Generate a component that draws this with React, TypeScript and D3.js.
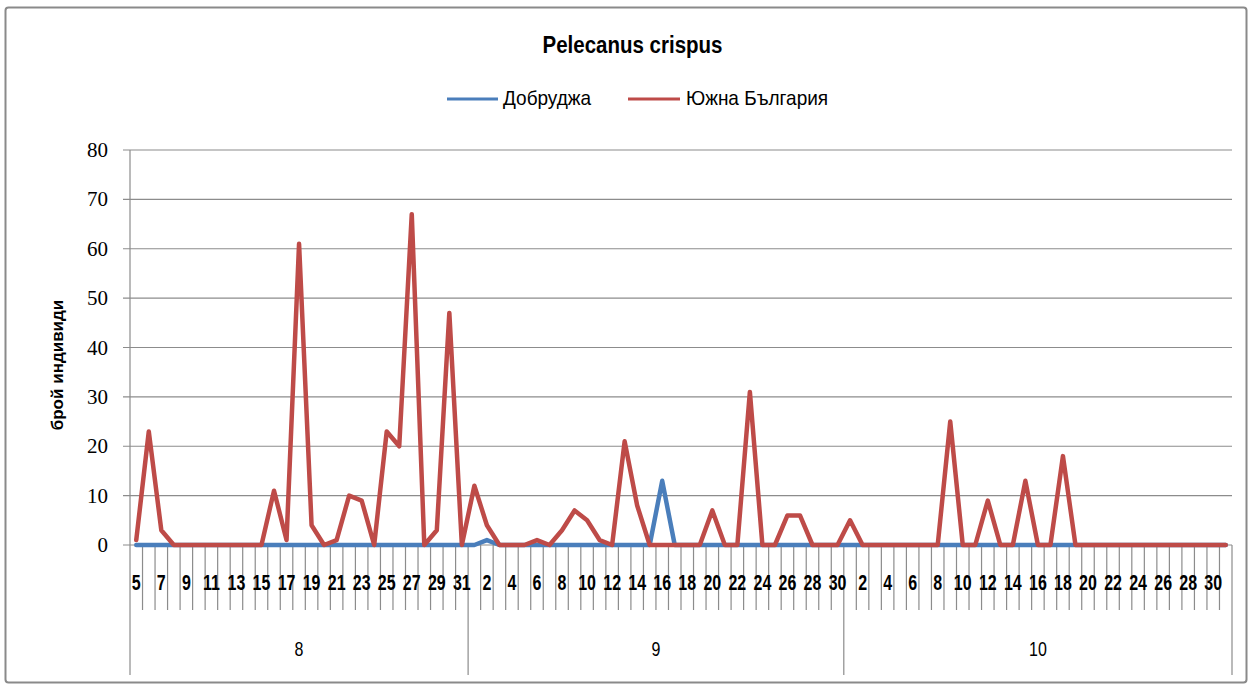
import React from 'react';
import * as d3 from 'd3';

const augustDays = ["5","6","7","8","9","10","11","12","13","14","15","16","17","18","19","20","21","22","23","24","25","26","27","28","29","30","31"];
const septemberDays = ["1","2","3","4","5","6","7","8","9","10","11","12","13","14","15","16","17","18","19","20","21","22","23","24","25","26","27","28","29","30"];
const octoberDays = ["1","2","3","4","5","6","7","8","9","10","11","12","13","14","15","16","17","18","19","20","21","22","23","24","25","26","27","28","29","30","31"];
const months = ["8", "9", "10"];

// Добруджа
const dobrudzhaAug = [0,0,0,0,0,0,0,0,0,0,0,0,0,0,0,0,0,0,0,0,0,0,0,0,0,0,0];
const dobrudzhaSep = [0,1,0,0,0,0,0,0,0,0,0,0,0,0,0,13,0,0,0,0,0,0,0,0,0,0,0,0,0,0];
const dobrudzhaOct = [0,0,0,0,0,0,0,0,0,0,0,0,0,0,0,0,0,0,0,0,0,0,0,0,0,0,0,0,0,0,0];

// Южна България
const southAug = [1,23,3,0,0,0,0,0,0,0,0,11,1,61,4,0,1,10,9,0,23,20,67,0,3,47,0];
const southSep = [12,4,0,0,0,1,0,3,7,5,1,0,21,8,0,0,0,0,0,7,0,0,31,0,0,6,6,0,0,0];
const southOct = [5,0,0,0,0,0,0,0,25,0,0,9,0,0,13,0,0,18,0,0,0,0,0,0,0,0,0,0,0,0,0];

const yTicks = [0, 10, 20, 30, 40, 50, 60, 70, 80];

const seriesNames = ["Добруджа", "Южна България"];
const seriesColors = ["#4A7EBB", "#BE4B48"];

const monthDays = [augustDays, septemberDays, octoberDays];
const dobrudzha = [...dobrudzhaAug, ...dobrudzhaSep, ...dobrudzhaOct];
const south = [...southAug, ...southSep, ...southOct];

type Cat = { key: string; month: string; day: string; idx: number };
const categories: Cat[] = [];
monthDays.forEach((days, m) => {
  days.forEach((d) => {
    categories.push({ key: `${months[m]}-${d}`, month: months[m], day: d, idx: categories.length });
  });
});

const W = 1254;
const H = 685;
const plotLeft = 130;
const plotRight = 1232;
const plotTop = 150;
const plotBottom = 545;

const grid = '#8C8C8C';

function STxt(props: {
  x: number; y: number; sy?: number; anchor?: string; size: number; weight?: string | number;
  family?: string; fill?: string; rotate?: number; children: React.ReactNode;
}) {
  const { x, y, sy = 1, anchor = 'middle', size, weight = 'normal', family = "'Liberation Sans', Arial, sans-serif", fill = '#000', rotate = 0 } = props;
  const tr = `translate(${x},${y})` + (rotate ? ` rotate(${rotate})` : '') + ` scale(1,${sy})`;
  return (
    <text transform={tr} textAnchor={anchor} fontSize={size} fontWeight={weight} fontFamily={family} fill={fill}>
      {props.children}
    </text>
  );
}

export default function App() {
  const x = d3.scaleBand<string>().domain(categories.map((c) => c.key)).range([plotLeft, plotRight]).padding(0);
  const bw = x.bandwidth();
  const cx = (i: number) => (x(categories[i].key) as number) + bw / 2;
  const y = d3.scaleLinear().domain([0, 80]).range([plotBottom, plotTop]);

  const line = d3.line<number>().x((_, i) => cx(i)).y((v) => y(v));

  const monthStarts: number[] = [];
  let acc = 0;
  monthDays.forEach((d) => { monthStarts.push(acc); acc += d.length; });

  return (
    <svg width={W} height={H} style={{ position: 'absolute', left: 0, top: 0, background: '#fff' }}>
      <rect x={5.5} y={7.5} width={1241} height={675} rx={3} fill="#fff" stroke="#8A8A8A" strokeWidth={2} />

      <STxt x={632.5} y={53} size={20.5} weight="bold" sy={1.2}>Pelecanus crispus</STxt>

      {/* legend */}
      <line x1={447} x2={498} y1={99} y2={99} stroke={seriesColors[0]} strokeWidth={3} />
      <STxt x={503} y={105} size={19} sy={1.05} anchor="start">{seriesNames[0]}</STxt>
      <line x1={628} x2={680} y1={99} y2={99} stroke={seriesColors[1]} strokeWidth={3} />
      <STxt x={686} y={105} size={19} sy={1.05} anchor="start">{seriesNames[1]}</STxt>

      {/* gridlines */}
      {yTicks.map((t) => (
        <g key={t}>
          <line x1={plotLeft - 7} x2={plotRight} y1={y(t)} y2={y(t)} stroke={grid} strokeWidth={1.2} />
          <STxt x={108} y={y(t) + 7} size={21} anchor="end" family="'Liberation Serif', 'Times New Roman', serif">{t}</STxt>
        </g>
      ))}
      <line x1={plotLeft} x2={plotLeft} y1={plotTop} y2={plotBottom} stroke={grid} strokeWidth={1.2} />

      {/* category ticks */}
      {d3.range(categories.length + 1).map((i) => {
        const xb = i < categories.length ? (x(categories[i].key) as number) : plotRight;
        const isMonth = monthStarts.includes(i) || i === categories.length;
        return (
          <line key={i} x1={xb} x2={xb} y1={plotBottom} y2={isMonth ? 675 : 610} stroke={grid} strokeWidth={1.2} />
        );
      })}
      {categories.map((c, i) => (i % 2 === 0 ? (
        <STxt key={c.key} x={cx(i)} y={590} size={16} weight="bold" sy={1.4}>{c.day}</STxt>
      ) : null))}
      {months.map((m, k) => {
        const s = monthStarts[k];
        const e = s + monthDays[k].length;
        const xs = x(categories[s].key) as number;
        const xe = e < categories.length ? (x(categories[e].key) as number) : plotRight;
        return <STxt key={m} x={(xs + xe) / 2} y={656} size={16} sy={1.3}>{m}</STxt>;
      })}

      <STxt x={63} y={365} size={17} weight="bold" rotate={-90}>брой индивиди</STxt>

      {/* series */}
      <path d={line(dobrudzha) || ''} fill="none" stroke={seriesColors[0]} strokeWidth={4.5} strokeLinejoin="round" strokeLinecap="round" />
      <path d={line(south) || ''} fill="none" stroke={seriesColors[1]} strokeWidth={4.5} strokeLinejoin="round" strokeLinecap="round" />
    </svg>
  );
}
